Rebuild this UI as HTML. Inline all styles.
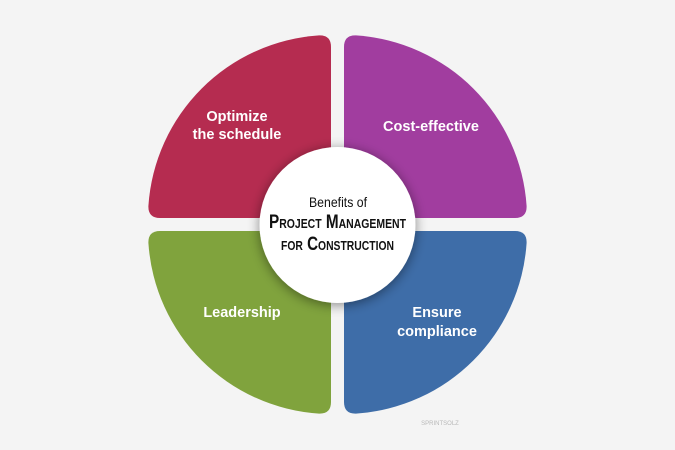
<!DOCTYPE html>
<html><head><meta charset="utf-8"><style>
html,body{margin:0;padding:0;background:#f4f4f4;}
svg{display:block}
</style></head><body>
<svg width="675" height="450" viewBox="0 0 675 450" xmlns="http://www.w3.org/2000/svg">
<defs>
<filter id="sh" x="-30%" y="-30%" width="160%" height="160%">
<feGaussianBlur in="SourceAlpha" stdDeviation="6"/>
<feOffset dx="0" dy="2"/>
<feComponentTransfer><feFuncA type="linear" slope="0.45"/></feComponentTransfer>
<feMerge><feMergeNode/><feMergeNode in="SourceGraphic"/></feMerge>
</filter>
</defs>
<rect width="675" height="450" fill="#f4f4f4"/>
<path d="M331,218 L160,218 Q148,218 148.4,206 A183 183 0 0 1 319,35.4 Q331,35 331,47 Z" fill="#b52c50"/>
<path d="M344,218 L515,218 Q527,218 526.6,206 A183 183 0 0 0 356,35.4 Q344,35 344,47 Z" fill="#a13d9f"/>
<path d="M331,231 L160,231 Q148,231 148.4,243 A183 183 0 0 0 319,413.6 Q331,414 331,402 Z" fill="#80a33d"/>
<path d="M344,231 L515,231 Q527,231 526.6,243 A183 183 0 0 1 356,413.6 Q344,414 344,402 Z" fill="#3e6da8"/>
<g font-family="Liberation Sans, sans-serif" font-size="14.5" font-weight="bold" fill="#fff" text-anchor="middle">
<text x="237" y="121">Optimize</text>
<text x="237" y="139">the schedule</text>
<text x="431" y="131">Cost-effective</text>
<text x="242" y="317">Leadership</text>
<text x="437" y="317">Ensure</text>
<text x="437" y="336">compliance</text>
</g>
<circle cx="337.5" cy="225" r="78" fill="#fff" filter="url(#sh)"/>
<g font-family="Liberation Sans, sans-serif" fill="#111">
<text x="309" y="207" font-size="14" textLength="58" lengthAdjust="spacingAndGlyphs">Benefits of</text>
<text x="269" y="228" font-size="19" font-weight="bold" style="font-variant:small-caps" textLength="137" lengthAdjust="spacingAndGlyphs">Project Management</text>
<text x="281" y="250" font-size="19" font-weight="bold" style="font-variant:small-caps" textLength="113" lengthAdjust="spacingAndGlyphs">for Construction</text>
</g>
<text x="440" y="425" font-family="Liberation Sans, sans-serif" font-size="6" fill="#b9b9b9" text-anchor="middle">SPRINTSOLZ</text>
</svg>
</body></html>
